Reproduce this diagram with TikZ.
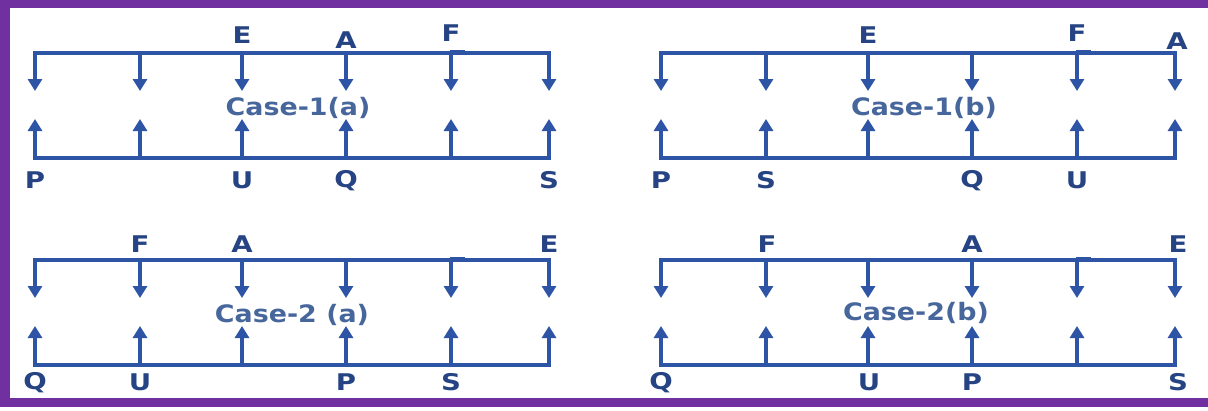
\documentclass[tikz,border=0pt]{standalone}
\usepackage{fontspec}
\setmainfont{DejaVu Sans}
\usetikzlibrary{arrows.meta}
\definecolor{framepurple}{RGB}{112,48,160}
\definecolor{lncol}{RGB}{46,84,166}
\definecolor{lblcol}{RGB}{38,68,132}
\definecolor{casecol}{RGB}{70,102,156}
\newcommand\stretchtxt[2][1.2]{\scalebox{#1}[1]{#2}}
\tikzset{
  baseline/.style={lncol, line width=3.2pt, line cap=rect},
  downarrow/.style={lncol, line width=3.2pt, -{Triangle[width=14pt,length=12pt]}},
  blip/.style={lncol, line width=2.6pt},
  letter/.style={text=lblcol, font=\fontsize{23}{23}\selectfont\bfseries, inner sep=0pt},
  caselbl/.style={text=casecol, font=\fontsize{24}{24}\selectfont\bfseries, inner sep=0pt},
  framebar/.style={fill=framepurple, draw=none}
}
% #1 panel name, #2 x offset, #3 y offset
\newcommand\drawpanel[3]{%
  \foreach \i/\xx in {1/35,2/140,3/242,4/346,5/451,6/549}{
    \coordinate (#1t\i) at (#2+\xx, #3+53);
    \coordinate (#1tt\i) at (#2+\xx, #3+91);
    \coordinate (#1b\i) at (#2+\xx, #3+158);
    \coordinate (#1bt\i) at (#2+\xx, #3+119);
  }
  \draw[baseline] (#1t1) -- (#1t6);
  \draw[baseline] (#1b1) -- (#1b6);
  \foreach \i in {1,...,6}{
    \draw[downarrow] (#1t\i) -- (#1tt\i);
    \draw[downarrow] (#1b\i) -- (#1bt\i);
  }
  \draw[blip] ([xshift=-1pt,yshift=1.8pt]#1t5) -- ++(15,0);
  \draw[blip] ([xshift=-1pt,yshift=1.2pt]#1b5) -- ++(15,0);
}
\begin{document}
\begin{tikzpicture}[x=1pt,y=-1pt]
\useasboundingbox (0,0) rectangle (1208,410);
\fill[white] (0,0) rectangle (1208,410);
% frame
\fill[framebar] (0,0) rectangle (1208,8);
\fill[framebar] (0,0) rectangle (10,407);
\fill[framebar] (0,398) rectangle (1208,407);

\drawpanel{A}{0}{0}
\drawpanel{B}{626}{0}
\drawpanel{C}{0}{207}
\drawpanel{D}{626}{207}

% Case-1(a)
\node[letter] (aE) at (242,35) {\stretchtxt{E}};
\node[letter] (aA) at (346,40) {\stretchtxt{A}};
\node[letter] (aF) at (451,33) {\stretchtxt{F}};
\node[caselbl] (aC) at (298,108) {\stretchtxt[1.12]{Case-1(a)}};
\node[letter] (aP) at (35,180) {\stretchtxt{P}};
\node[letter] (aU) at (242,180) {\stretchtxt{U}};
\node[letter] (aQ) at (346,181) {\stretchtxt{Q}};
\node[letter] (aS) at (549,180) {\stretchtxt{S}};

% Case-1(b)
\node[letter] (bE) at (868,35) {\stretchtxt{E}};
\node[letter] (bF) at (1077,33) {\stretchtxt{F}};
\node[letter] (bA) at (1177,41) {\stretchtxt{A}};
\node[caselbl] (bC) at (924,108) {\stretchtxt[1.12]{Case-1(b)}};
\node[letter] (bP) at (661,180) {\stretchtxt{P}};
\node[letter] (bS) at (766,180) {\stretchtxt{S}};
\node[letter] (bQ) at (972,181) {\stretchtxt{Q}};
\node[letter] (bU) at (1077,180) {\stretchtxt{U}};

% Case-2 (a)
\node[letter] (cF) at (140,244) {\stretchtxt{F}};
\node[letter] (cA) at (242,244) {\stretchtxt{A}};
\node[letter] (cE) at (549,244) {\stretchtxt{E}};
\node[caselbl] (cC) at (292,315) {\stretchtxt[1.12]{Case-2 (a)}};
\node[letter] (cQ) at (35,383) {\stretchtxt{Q}};
\node[letter] (cU) at (140,382) {\stretchtxt{U}};
\node[letter] (cP) at (346,382) {\stretchtxt{P}};
\node[letter] (cS) at (451,382) {\stretchtxt{S}};

% Case-2(b)
\node[letter] (dF) at (767,244) {\stretchtxt{F}};
\node[letter] (dA) at (972,244) {\stretchtxt{A}};
\node[letter] (dE) at (1178,244) {\stretchtxt{E}};
\node[caselbl] (dC) at (916,313) {\stretchtxt[1.12]{Case-2(b)}};
\node[letter] (dQ) at (661,383) {\stretchtxt{Q}};
\node[letter] (dU) at (869,382) {\stretchtxt{U}};
\node[letter] (dP) at (972,382) {\stretchtxt{P}};
\node[letter] (dS) at (1178,382) {\stretchtxt{S}};
\end{tikzpicture}
\end{document}
